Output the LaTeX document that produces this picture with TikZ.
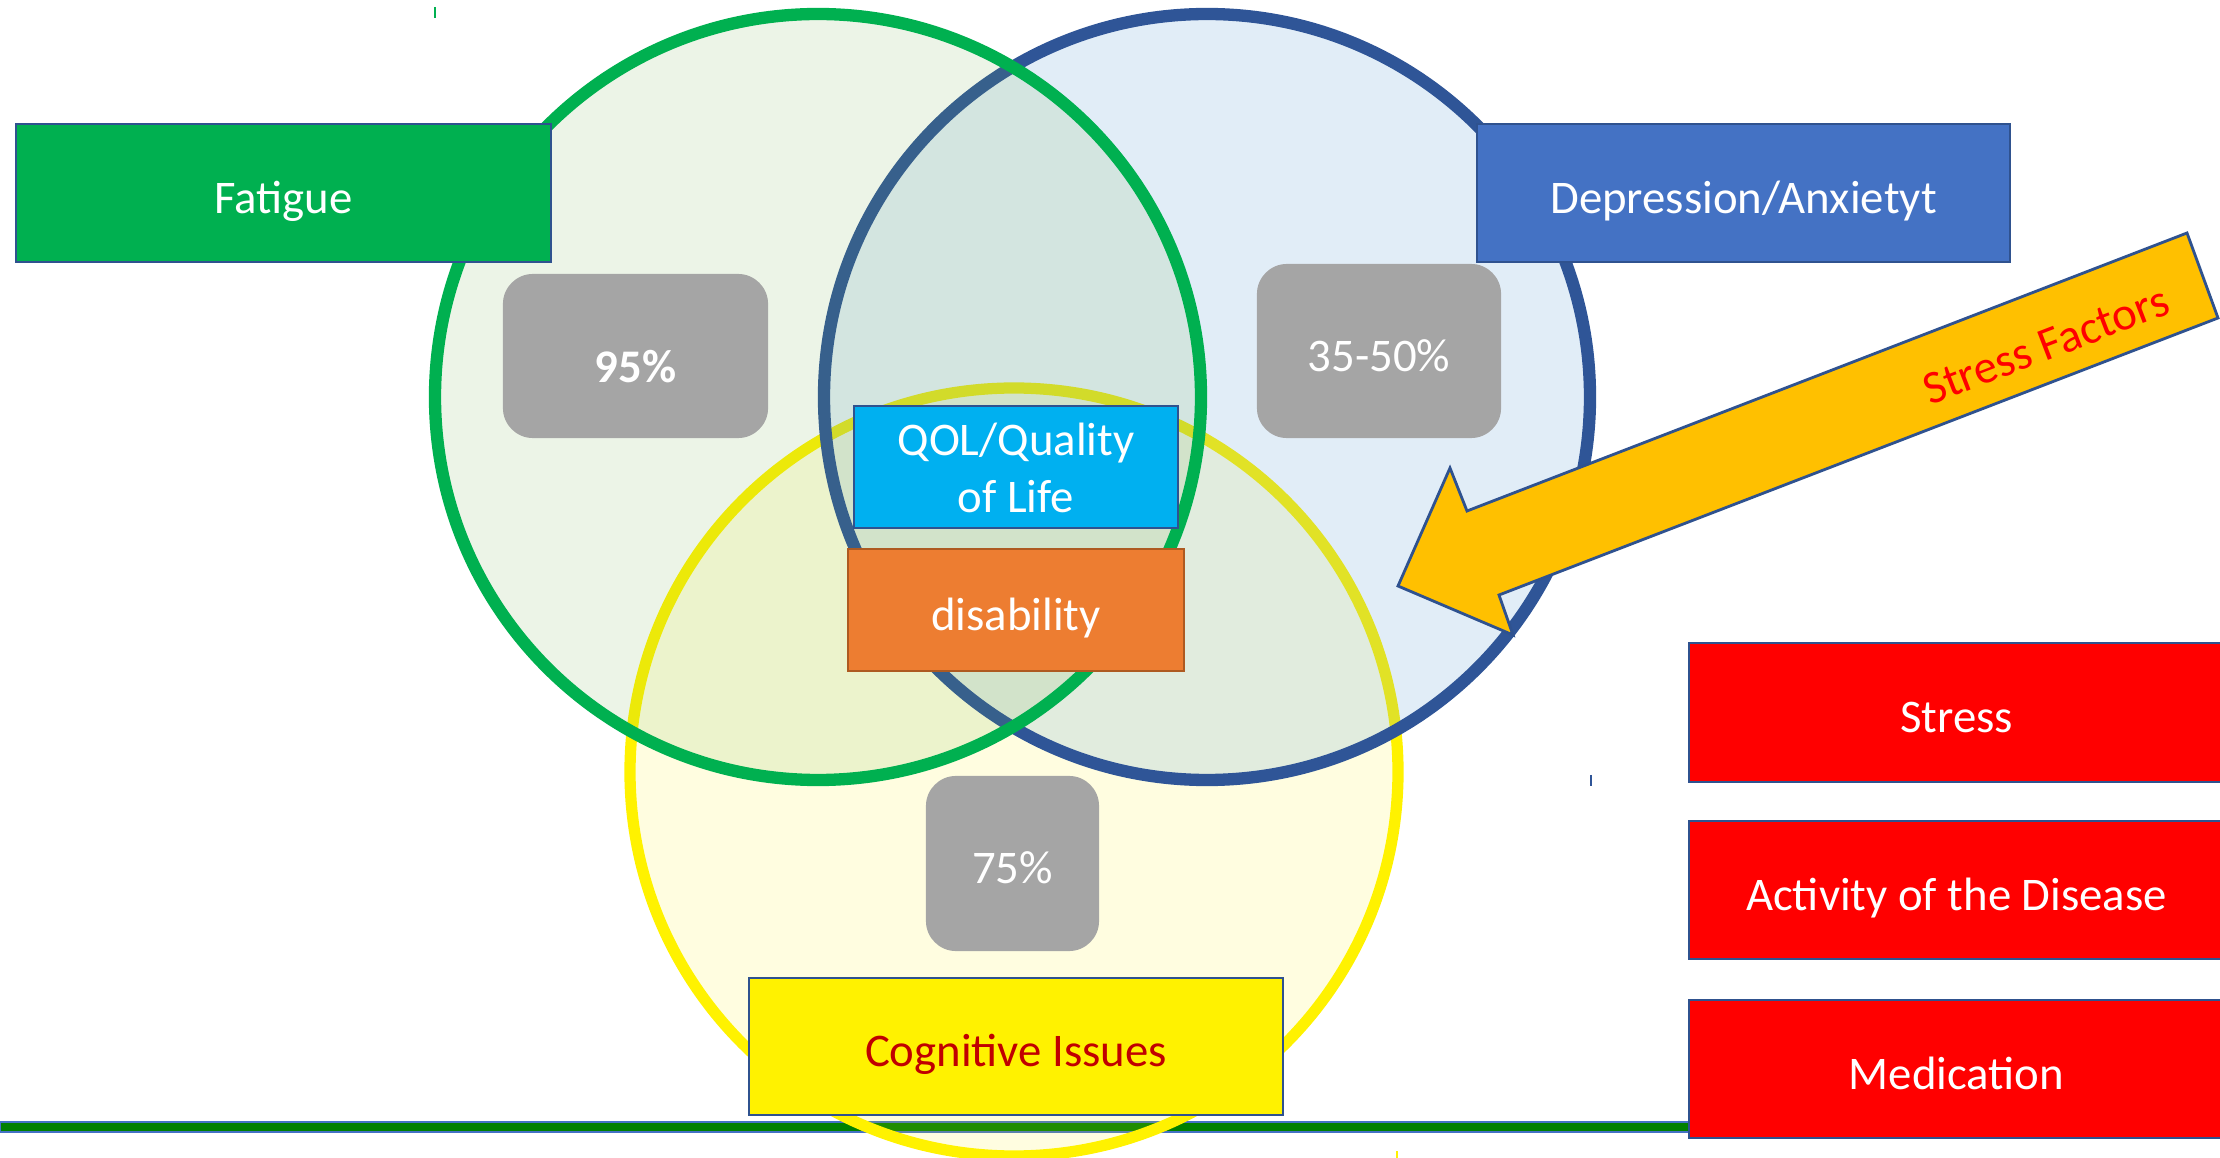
\documentclass[tikz,border=0pt]{standalone}
\usepackage{fontspec}
\setmainfont{Carlito}
\definecolor{fatiguegreen}{HTML}{00B050}
\definecolor{ringblue}{HTML}{2F5597}
\definecolor{boxline}{HTML}{2F528F}
\definecolor{tintgreen}{HTML}{70AD47}
\definecolor{tintblue}{HTML}{5B9BD5}
\definecolor{depblue}{HTML}{4472C4}
\definecolor{qolcyan}{HTML}{00B0F0}
\definecolor{disorange}{HTML}{ED7D31}
\definecolor{disline}{HTML}{AE5A21}
\definecolor{pctgray}{HTML}{A5A5A5}
\definecolor{cogred}{HTML}{C00000}
\definecolor{arrowgold}{HTML}{FFC000}
\definecolor{bargreen}{HTML}{008000}
\newcommand{\labelfont}{\fontsize{13.3}{16.2}\selectfont}

\begin{document}
\begin{tikzpicture}[x=0.01cm, y=-0.01cm,
    tag/.style={draw=boxline, line width=0.7pt, text=white, inner sep=0pt,
      align=center, font=\labelfont, text height=11.4pt, text depth=0pt},
    pct/.style={fill=pctgray, rounded corners=0.3cm, text=white, inner sep=0pt,
      align=center, font=\labelfont, text height=11.4pt, text depth=0pt},
    ring/.style={line width=3.5pt, fill opacity=0.13}]
      \useasboundingbox (0,0) rectangle (2220,1158);

      % base line
      \draw[fill=bargreen, draw=depblue, line width=0.5pt] (0,1122) rectangle (1700,1132);

      % the three circles
      \draw[ring, draw=yellow, fill=yellow, fill opacity=0.12, line width=3.2pt] (1014,772) circle [radius=384];
      \draw[ring, draw=ringblue, fill=tintblue, fill opacity=0.18] (1207,397) circle [radius=383];
      \draw[ring, draw=fatiguegreen, fill=tintgreen] (818,397) circle [radius=383];

      \draw[fatiguegreen, line width=0.4pt] (435,7) -- (435,18);
      \draw[ringblue, line width=0.4pt] (1591,775) -- (1591,786);
      \draw[yellow, line width=0.4pt] (1397,1151) -- (1397,1158);

      % labels
      \node[tag, fill=fatiguegreen, minimum width=5.35cm, minimum height=1.38cm]
        (fatigue) at (283.5,193) {Fatigue};
      \node[tag, fill=depblue, minimum width=5.33cm, minimum height=1.38cm]
        (depression) at (1743.5,193) {Depression/Anxietyt};
      \node[tag, fill=yellow, text=cogred, minimum width=5.34cm, minimum height=1.37cm]
        (cognitive) at (1016,1046.5) {Cognitive Issues};
      \node[tag, fill=qolcyan, minimum width=3.24cm, minimum height=1.22cm,
        text height=26pt, text depth=0pt]
        (qol) at (1016,467) {QOL/Quality\\of Life};
      \node[tag, fill=disorange, draw=disline, minimum width=3.36cm, minimum height=1.22cm]
        (disability) at (1016,610) {disability};

      \node[pct, minimum width=2.65cm, minimum height=1.64cm, text height=14.8pt]
        (pctfatigue) at (635.5,356) {\textbf{95\%}};
      \node[pct, minimum width=2.44cm, minimum height=1.74cm]
        (pctdepression) at (1379,351) {35-50\%};
      \node[pct, minimum width=1.73cm, minimum height=1.75cm]
        (pctcognitive) at (1012.5,863.5) {75\%};

      \node[tag, fill=red, minimum width=5.35cm, minimum height=1.39cm]
        (stress) at (1956.5,712.5) {Stress};
      \node[tag, fill=red, minimum width=5.35cm, minimum height=1.38cm]
        (activity) at (1956.5,890) {Activity of the Disease};
      \node[tag, fill=red, minimum width=5.35cm, minimum height=1.38cm]
        (medication) at (1956.5,1069) {Medication};

      % stress factors arrow
      \draw[fill=arrowgold, draw=boxline, line width=0.8pt, line join=miter]
        (2187,233) -- (1467,511) -- (1450,468) -- (1398,586) -- (1513,635)
        -- (1499,595) -- (2218,318) -- cycle;
      \node[text=red, font=\labelfont, rotate=21] (factors) at (2046,345) {Stress Factors};
    \end{tikzpicture}
\end{document}
